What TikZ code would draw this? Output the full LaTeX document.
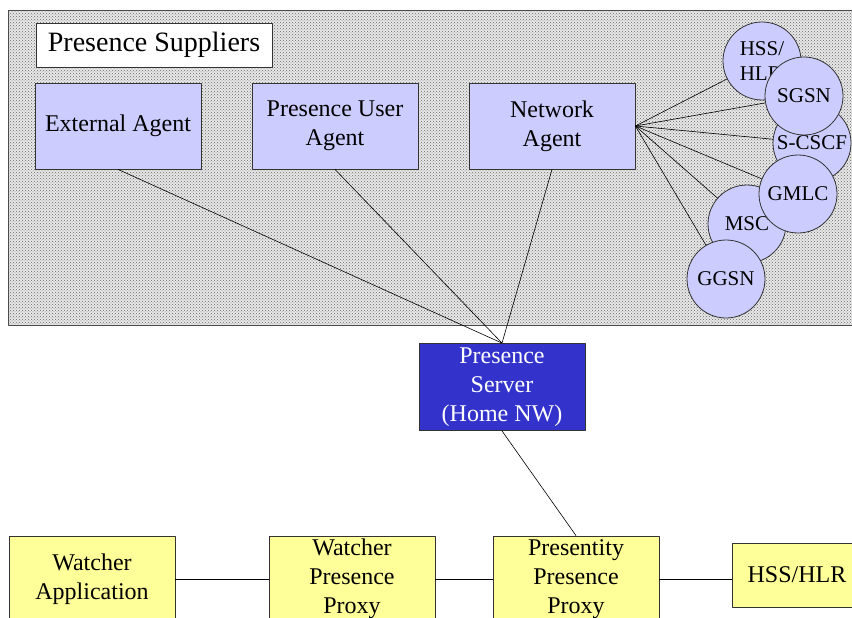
\documentclass[tikz,border=0pt]{standalone}
\usepackage{fontspec}
\setmainfont{Liberation Serif}
\usetikzlibrary{patterns}
\definecolor{agentblue}{RGB}{204,204,255}
\definecolor{serverblue}{RGB}{51,51,204}
\definecolor{proxyyellow}{RGB}{255,255,153}
\begin{document}
\begin{tikzpicture}[line join=round,x=1pt,y=-1pt]
	\tikzset{box/.style={draw=black!80,line width=0.8pt,minimum width=166pt,minimum height=86pt,align=center,inner sep=2pt,font=\fontsize{24}{29}\selectfont},
		agent/.style={box,fill=agentblue},
		proxy/.style={box,fill=proxyyellow},
		elem/.style={circle,draw=black!80,line width=0.8pt,fill=agentblue,minimum size=78pt,inner sep=0pt,align=center,font=\fontsize{21}{25}\selectfont},
		link/.style={line width=0.6pt}}
	\useasboundingbox (0,0) rectangle (852,618);
	% supplier area
	\fill[gray!18] (8,10) rectangle (870,325);
	\fill[pattern=crosshatch dots,pattern color=black!60] (8,10) rectangle (870,325);
	\draw[black!70,line width=0.8pt] (8,10) rectangle (870,325);
	\node[box,fill=white,minimum width=236pt,minimum height=44pt,font=\fontsize{28}{32}\selectfont] (sup) at (154,45) {Presence Suppliers};
	\node[agent] (ext) at (118,126) {External Agent};
	\node[agent] (pua) at (335,126) {Presence User\\Agent};
	\node[agent] (na) at (552,126) {Network\\Agent};
	% network elements
	\node[elem,align=left] (hss) at (762,61) {HSS/\\HLR};
	\node[elem] (cscf) at (812,143) {S-CSCF};
	\node[elem] (sgsn) at (804,96) {SGSN};
	\node[elem] (msc) at (747,224) {MSC};
	\node[elem] (gmlc) at (798,194) {GMLC};
	\node[elem] (ggsn) at (726,279) {GGSN};
	\foreach \n in {hss,sgsn,cscf,gmlc,msc,ggsn}
	\draw[link] (na.east) -- (\n);
	% server and proxies
	\node[box,fill=serverblue,text=white,minimum height=87pt] (srv) at (502,387) {Presence\\Server\\(Home NW)};
	\node[proxy] (wa) at (92,579) {Watcher\\Application};
	\node[proxy] (wpp) at (352,579) {Watcher\\Presence\\Proxy};
	\node[proxy] (ppp) at (576,579) {Presentity\\Presence\\Proxy};
	\node[proxy,minimum width=130pt,minimum height=64pt] (hlr) at (797,575) {HSS/HLR};
	\foreach \a in {ext,pua,na}
	\draw[link] (\a.south) -- (srv.north);
	\draw[link] (srv.south) -- (ppp.north);
	\draw[link] (wa) -- (wpp);
	\draw[link] (wpp) -- (ppp);
	\draw[link] (ppp.east) -- (ppp.east -| hlr.west);
\end{tikzpicture}
\end{document}
